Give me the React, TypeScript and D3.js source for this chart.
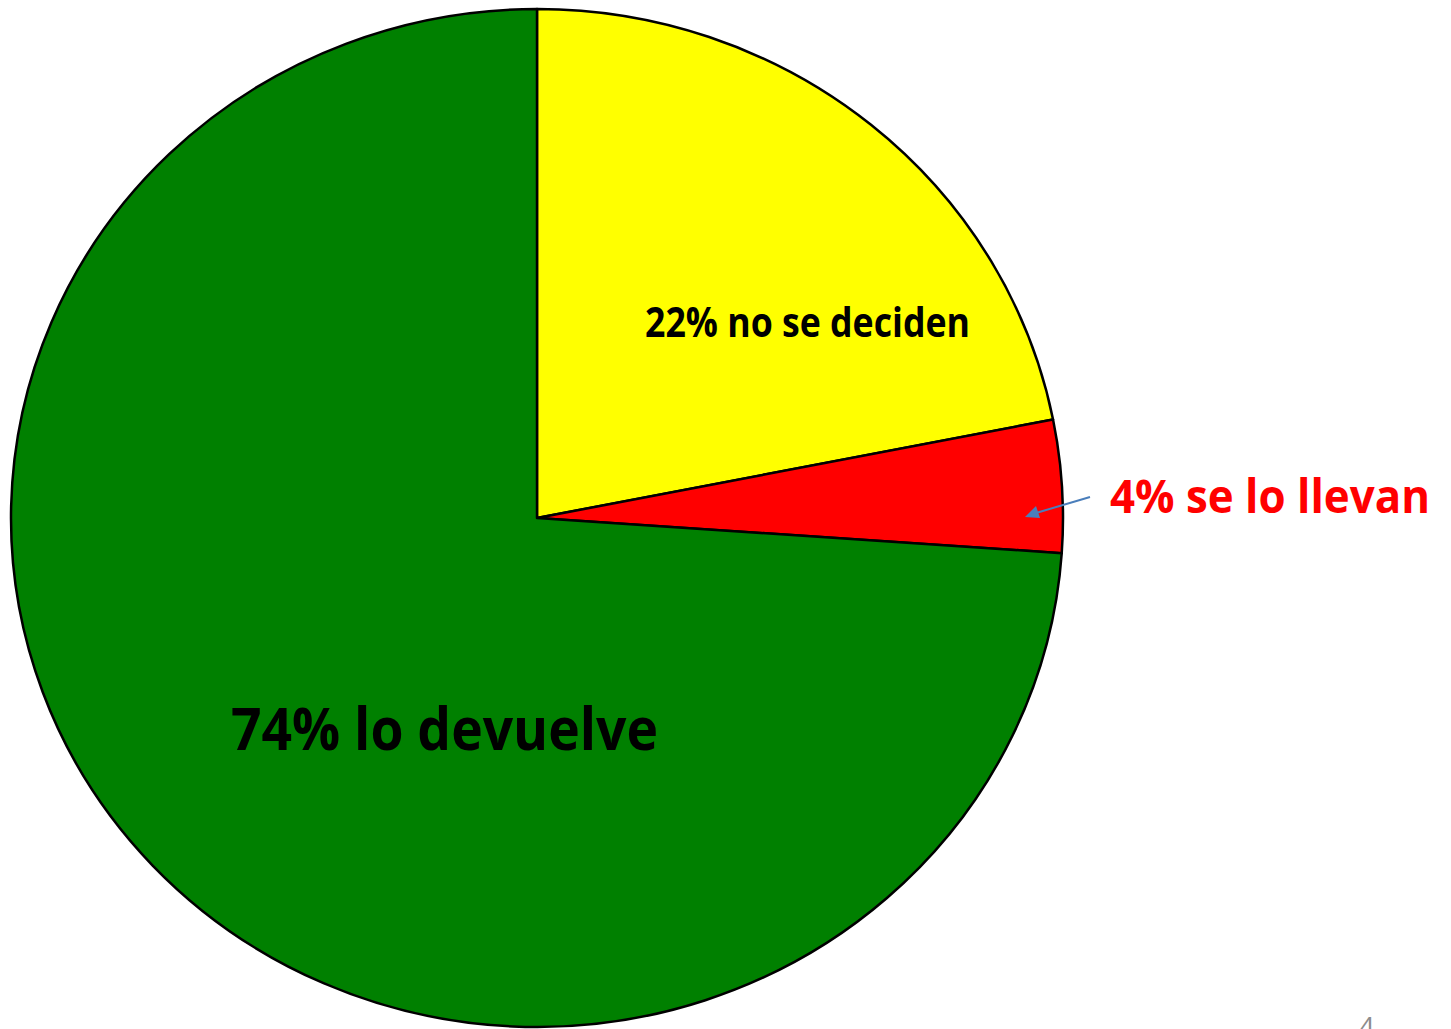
import React from "react";
import * as d3 from "d3";

const categories = ["no se deciden", "se lo llevan", "lo devuelve"];
const values = [21.9, 4.2, 73.9];
const colors = ["#FFFF00", "#FF0000", "#008000"];
const labels = ["22% no se deciden", "4% se lo llevan", "74% lo devuelve"];
const labelColors = ["#000000", "#FF0000", "#000000"];

const W = 1451;
const H = 1029;
const cx = 537;
const cy = 518;
const rx = 526;
const ry = 509;

// label layout (anchor x, baseline y, font size, target width)
const labelLayout = [
  { x: 645, y: 337, size: 41, len: 325 },
  { x: 1110, y: 513, size: 46, len: 320 },
  { x: 231, y: 750, size: 59, len: 427 },
];

export default function App() {
  const pie = d3
    .pie<number>()
    .sort(null)
    .value((d) => d)
    .startAngle(0)
    .endAngle(2 * Math.PI);
  const arcs = pie(values);
  const arc = d3.arc<d3.PieArcDatum<number>>().innerRadius(0).outerRadius(rx);

  return (
    <div style={{ position: "fixed", left: 0, top: 0, width: W, height: H, background: "#fff" }}>
      <svg width={W} height={H} style={{ display: "block" }}>
        <g transform={`translate(${cx},${cy}) scale(1,${ry / rx})`}>
          {arcs.map((a, i) => (
            <path
              key={categories[i]}
              d={arc(a) || ""}
              fill={colors[i]}
              stroke="#000"
              strokeWidth={2.5}
              strokeLinejoin="round"
              vectorEffect="non-scaling-stroke"
            />
          ))}
        </g>
        {/* arrow for small slice */}
        <line x1={1090} y1={497} x2={1036} y2={513} stroke="#4A7EBB" strokeWidth={2} />
        <path d="M1025,517 L1036,506 L1040,518 Z" fill="#4A7EBB" />
        {labels.map((t, i) => (
          <text
            key={t}
            x={labelLayout[i].x}
            y={labelLayout[i].y}
            fill={labelColors[i]}
            fontFamily="'Open Sans', 'Noto Sans', sans-serif"
            fontWeight={700}
            fontSize={labelLayout[i].size}
            textLength={labelLayout[i].len}
            lengthAdjust="spacingAndGlyphs"
          >
            {t}
          </text>
        ))}
        <text x={1359} y={1037} fill="#8C8C8C" fontFamily="'Open Sans', sans-serif" fontSize={27}>
          4
        </text>
      </svg>
    </div>
  );
}
